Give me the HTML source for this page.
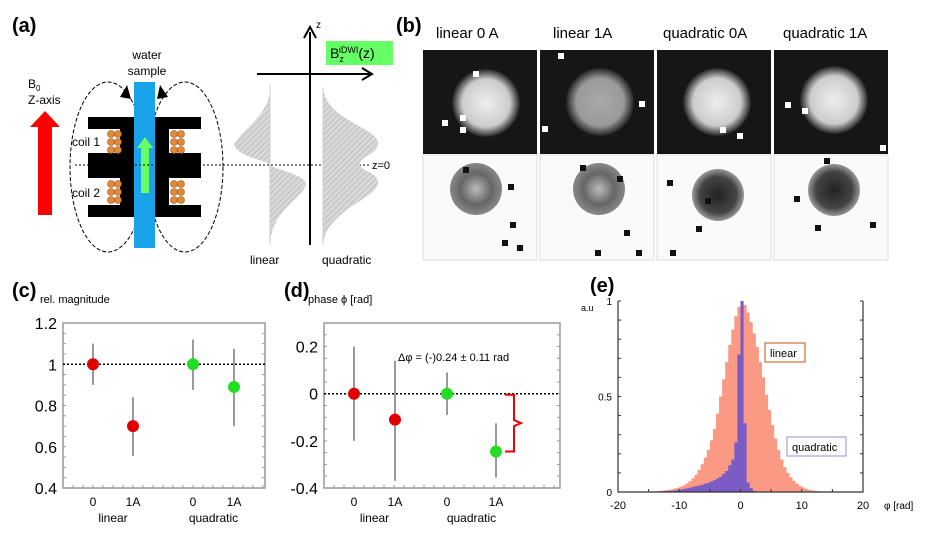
<!DOCTYPE html>
<html><head><meta charset="utf-8"><style>
body{margin:0;background:#fff;width:927px;height:535px;overflow:hidden;font-family:"Liberation Sans",sans-serif}
svg text{font-family:"Liberation Sans",sans-serif}
</style></head><body>
<svg id="fig" width="927" height="535" viewBox="0 0 927 535" xmlns="http://www.w3.org/2000/svg">
<defs>
<pattern id="hatch" width="4" height="4" patternUnits="userSpaceOnUse" patternTransform="rotate(45)"><rect width="4" height="4" fill="#d8d8d8"/><line x1="0" y1="0" x2="0" y2="4" stroke="#a8a8a8" stroke-width="1"/></pattern>
<radialGradient id="blobW"><stop offset="0" stop-color="#eee"/><stop offset="0.7" stop-color="#ccc"/><stop offset="1" stop-color="#222"/></radialGradient>
<radialGradient id="blobW2"><stop offset="0" stop-color="#aaa"/><stop offset="0.7" stop-color="#999"/><stop offset="1" stop-color="#222"/></radialGradient>
<radialGradient id="blobG"><stop offset="0" stop-color="#bbb"/><stop offset="0.6" stop-color="#666"/><stop offset="1" stop-color="#888"/></radialGradient>
<radialGradient id="blobD"><stop offset="0" stop-color="#222"/><stop offset="0.7" stop-color="#444"/><stop offset="1" stop-color="#999"/></radialGradient>
</defs>

<g>
<text x="12" y="32" font-size="20" font-weight="bold">(a)</text>
<path d="M38,215 L38,127 L30,127 L45,111 L60,127 L52,127 L52,215 Z" fill="#f00"/>
<text x="28" y="88" font-size="12">B<tspan font-size="8" dy="3">0</tspan></text>
<text x="28" y="104" font-size="12">Z-axis</text>
<text x="147" y="59" font-size="12" text-anchor="middle">water</text>
<text x="147" y="75" font-size="12" text-anchor="middle">sample</text>
<ellipse cx="108" cy="167" rx="38" ry="85" fill="none" stroke="#000" stroke-dasharray="4,2"/>
<ellipse cx="185" cy="167" rx="38" ry="85" fill="none" stroke="#000" stroke-dasharray="4,2"/>
<g fill="#000">
<rect x="88" y="117" width="113" height="12"/><rect x="88" y="153" width="113" height="25"/><rect x="88" y="205" width="113" height="12"/>
<rect x="120" y="117" width="14" height="100"/><rect x="155" y="117" width="14" height="100"/>
</g>
<g fill="#e08a3a" stroke="#a05010" stroke-width="0.6">
<circle cx="111" cy="134" r="3.5"/><circle cx="118" cy="134" r="3.5"/><circle cx="111" cy="142" r="3.5"/><circle cx="118" cy="142" r="3.5"/><circle cx="111" cy="150" r="3.5"/><circle cx="118" cy="150" r="3.5"/>
<circle cx="174" cy="134" r="3.5"/><circle cx="181" cy="134" r="3.5"/><circle cx="174" cy="142" r="3.5"/><circle cx="181" cy="142" r="3.5"/><circle cx="174" cy="150" r="3.5"/><circle cx="181" cy="150" r="3.5"/>
<circle cx="111" cy="184" r="3.5"/><circle cx="118" cy="184" r="3.5"/><circle cx="111" cy="192" r="3.5"/><circle cx="118" cy="192" r="3.5"/><circle cx="111" cy="200" r="3.5"/><circle cx="118" cy="200" r="3.5"/>
<circle cx="174" cy="184" r="3.5"/><circle cx="181" cy="184" r="3.5"/><circle cx="174" cy="192" r="3.5"/><circle cx="181" cy="192" r="3.5"/><circle cx="174" cy="200" r="3.5"/><circle cx="181" cy="200" r="3.5"/>
</g>
<text x="72" y="146" font-size="12">coil 1</text>
<text x="72" y="197" font-size="12">coil 2</text>
<rect x="134" y="82" width="21" height="166" fill="#1aa3e8"/>
<path d="M141,193 L141,148 L137,148 L145,137 L153,148 L149,148 L149,193 Z" fill="#6f6"/>
<path d="M120,97 L127,85 L131,99 Z M168,97 L160,85 L157,99 Z" fill="#000"/>
<line x1="75" y1="165" x2="370" y2="165" stroke="#000" stroke-dasharray="2,2"/>
<text x="372" y="169" font-size="11">z=0</text>
<path d="M270,85 C272,115 240,130 234,145 C240,158 266,160 270,165 C276,170 308,175 306,185 C300,200 272,210 270,245 Z" fill="url(#hatch)"/>
<line x1="270" y1="85" x2="270" y2="245" stroke="#ccc"/>
<path d="M323,88 C326,120 378,128 378,143 C378,156 358,156 360,165 C362,172 378,172 378,183 C378,198 326,210 323,245 Z" fill="url(#hatch)"/>
<line x1="323" y1="88" x2="323" y2="245" stroke="#ccc"/>
<line x1="310" y1="245" x2="310" y2="32" stroke="#000" stroke-width="2"/>
<path d="M304,38 L310,27 L316,38" fill="none" stroke="#000" stroke-width="2"/>
<line x1="257" y1="74" x2="370" y2="74" stroke="#000" stroke-width="2"/>
<path d="M362,68 L372,74 L362,80" fill="none" stroke="#000" stroke-width="2"/>
<text x="316" y="28" font-size="10">z</text>
<rect x="326" y="41" width="67" height="24" fill="#6f6"/>
<text x="330" y="58" font-size="14" font-family="Liberation Serif">B<tspan font-size="9" dy="4">z</tspan><tspan font-size="9" dy="-9" dx="-5">iDWI</tspan><tspan dy="5">(z)</tspan></text>
<text x="250" y="264" font-size="12">linear</text>
<text x="322" y="264" font-size="12">quadratic</text>
</g>

<g>
<text x="396" y="32" font-size="20" font-weight="bold">(b)</text>
<text x="436" y="38" font-size="15">linear    0 A</text>
<text x="553" y="38" font-size="15">linear    1A</text>
<text x="663" y="38" font-size="15">quadratic 0A</text>
<text x="783" y="38" font-size="15">quadratic 1A</text>
<g id="tiles"></g>
</g>

<g>
<text x="12" y="297" font-size="20" font-weight="bold">(c)</text>
<text x="40" y="303" font-size="11">rel. magnitude</text>
<g id="chartC"></g>
</g>

<g>
<text x="284" y="297" font-size="20" font-weight="bold">(d)</text>
<text x="308" y="303" font-size="11">phase ϕ [rad]</text>
<g id="chartD"></g>
<text x="398" y="361" font-size="11">Δφ = (-)0.24 ± 0.11 rad</text>
</g>

<g>
<text x="590" y="292" font-size="20" font-weight="bold">(e)</text>
<text x="581" y="311" font-size="9">a.u</text>
<text x="884" y="509" font-size="10">φ [rad]</text>
<g id="chartE"></g>
</g>
</svg>
<script>
const catLabels = ["0","1A","0","1A"];
const groupLabels = ["linear","quadratic"];
const cValues = [1.0, 0.70, 1.0, 0.89];
const cErrLow = [0.90, 0.555, 0.875, 0.70];
const cErrHigh = [1.10, 0.84, 1.12, 1.075];
const cTicks = [0.4, 0.6, 0.8, 1.0, 1.2];
const cTickLabels = ["0.4","0.6","0.8","1","1.2"];
const dValues = [0.0, -0.11, 0.0, -0.245];
const dErrLow = [-0.20, -0.37, -0.09, -0.355];
const dErrHigh = [0.20, 0.14, 0.09, -0.125];
const dTicks = [-0.4, -0.2, 0, 0.2];
const dTickLabels = ["-0.4","-0.2","0","0.2"];
const pointColors = ["#e00000","#e00000","#22dd22","#22dd22"];
const binStart = -15, binWidth = 0.5;
const linearHist = [0.002,0.003,0.004,0.005,0.007,0.009,0.011,0.014,0.018,0.022,0.028,0.035,0.045,0.057,0.072,0.09,0.115,0.145,0.18,0.22,0.27,0.33,0.41,0.5,0.59,0.68,0.77,0.85,0.92,0.97,1.0,0.98,0.94,0.89,0.83,0.76,0.68,0.6,0.51,0.43,0.35,0.28,0.22,0.17,0.13,0.1,0.077,0.058,0.044,0.033,0.024,0.017,0.012,0.009,0.006,0.004,0.003,0.002,0.001,0];
const quadHist = [0,0,0.001,0.002,0.003,0.004,0.005,0.006,0.008,0.01,0.013,0.016,0.019,0.022,0.026,0.03,0.034,0.038,0.043,0.048,0.055,0.062,0.07,0.08,0.095,0.11,0.14,0.17,0.26,0.72,1.0,0.36,0.05,0.02,0.006,0.002,0,0,0,0,0,0,0,0,0,0,0,0,0,0,0,0,0,0,0,0,0,0,0,0];
const eXTicks = [-20,-10,0,10,20];
const eYTicks = [0,0.5,1];
const eYTickLabels = ["0","0.5","1"];

const NS="http://www.w3.org/2000/svg";
function mk(parent,tag,attrs){const e=document.createElementNS(NS,tag);for(const k in attrs)e.setAttribute(k,attrs[k]);parent.appendChild(e);return e;}

function scatterPanel(gid, x0,x1,y0,y1, vmin,vmax, vals,lo,hi, ticks,tlabels, catX, refY){
  const g=document.getElementById(gid);
  const ys=v=>y1-(v-vmin)/(vmax-vmin)*(y1-y0);
  const frame=mk(g,'rect',{x:x0,y:y0,width:x1-x0,height:y1-y0,fill:'none',stroke:'#999','stroke-width':1.5});
  
  
  for(let v=vmin; v<=vmax+1e-9; v+=0.05){const y=ys(v);mk(g,'line',{x1:x0,x2:x0+3,y1:y,y2:y,stroke:'#999'});mk(g,'line',{x1:x1,x2:x1-3,y1:y,y2:y,stroke:'#999'});}
  for(let x=x0;x<=x1;x+=10){mk(g,'line',{x1:x,x2:x,y1:y1,y2:y1-3,stroke:'#999'});}
  ticks.forEach((t,i)=>{const tx=mk(g,'text',{x:x0-6,y:ys(t)+6,'font-size':16,'text-anchor':'end'});tx.textContent=tlabels[i];
    
    });
  const ref=mk(g,'line',{x1:x0,x2:x1,y1:ys(refY),y2:ys(refY),stroke:'#000','stroke-dasharray':'2,2','stroke-width':1.5});
  
  
  vals.forEach((v,i)=>{
    const eb=mk(g,'line',{x1:catX[i],x2:catX[i],y1:ys(lo[i]),y2:ys(hi[i]),stroke:'#777','stroke-width':1.5});
    
    
    const c=mk(g,'circle',{cx:catX[i],cy:ys(v),r:6,fill:pointColors[i]});
    
    
    const t=mk(g,'text',{x:catX[i],y:506,'font-size':12,'text-anchor':'middle'});t.textContent=catLabels[i];
    
    
  });
  groupLabels.forEach((gl,j)=>{const t=mk(g,'text',{x:(catX[2*j]+catX[2*j+1])/2,y:522,'font-size':12,'text-anchor':'middle'});t.textContent=gl;
    
    });
  return ys;
}
scatterPanel('chartC',63,265,323,488,0.4,1.2,cValues,cErrLow,cErrHigh,cTicks,cTickLabels,[93,133,193,234],1.0);
const ysD=scatterPanel('chartD',324,560,323,488,-0.4,0.3,dValues,dErrLow,dErrHigh,dTicks,dTickLabels,[354,395,447,496],0);
(function(){const g=document.getElementById('chartD');
 const y0=ysD(0)+1,y1=ysD(dValues[3]),ym=(y0+y1)/2;
 const b=mk(g,'path',{d:`M505,${y0} L514,${y0} L514,${ym-3} L521,${ym} L514,${ym+3} L514,${y1} L505,${y1}`,fill:'none',stroke:'#e00','stroke-width':2});
 
 })();

(function(){
 const g=document.getElementById('chartE');
 const x0=618,x1=863,y0=301,y1=492;
 const xs=v=>x0+(v+20)/40*(x1-x0), ys=v=>y1-v*(y1-y0);
 function hist(arr,color,name){let d=`M${xs(binStart)},${ys(0)}`;arr.forEach((v,i)=>{const a=xs(binStart+i*binWidth),b=xs(binStart+(i+1)*binWidth);d+=` L${a},${ys(v)} L${b},${ys(v)}`;});d+=` L${xs(binStart+arr.length*binWidth)},${ys(0)} Z`;
  const p=mk(g,'path',{d:d,fill:color});
  
  }
 hist(linearHist,'#fa9a85','linear-histogram');
 hist(quadHist,'#7a5cc4','quadratic-histogram');
 const f=mk(g,'path',{d:`M${x0},${y0} L${x0},${y1} L${x1},${y1} L${x1},${y0}`,fill:'none',stroke:'#333','stroke-width':1.2});
 
 
 for(let v=0;v<=1.001;v+=0.1){const y=ys(v);mk(g,'line',{x1:x0,x2:x0+3,y1:y,y2:y,stroke:'#333'});mk(g,'line',{x1:x1,x2:x1-3,y1:y,y2:y,stroke:'#333'});}
 for(let v=-20;v<=20;v+=5){mk(g,'line',{x1:xs(v),x2:xs(v),y1:y1,y2:y1-3,stroke:'#333'});}
 eXTicks.forEach(t=>{const tx=mk(g,'text',{x:xs(t),y:509,'font-size':11,'text-anchor':'middle'});tx.textContent=t;
  
  });
 eYTicks.forEach((t,i)=>{const tx=mk(g,'text',{x:x0-6,y:ys(t)+4,'font-size':10,'text-anchor':'end'});tx.textContent=eYTickLabels[i];
  
  });
 const l1=mk(g,'rect',{x:765,y:343,width:40,height:19,fill:'#fff',stroke:'#d07030','stroke-width':1.2});
 
 
 const t1=mk(g,'text',{x:770,y:357,'font-size':11});t1.textContent='linear';
 const l2=mk(g,'rect',{x:787,y:437,width:59,height:19,fill:'#fff',stroke:'#b0a0d0','stroke-width':1.2});
 
 
 const t2=mk(g,'text',{x:792,y:451,'font-size':11});t2.textContent='quadratic';
})();

(function(){
 const g=document.getElementById('tiles');
 const xsT=[423,540,657,774], w=114;
 const tops=[['url(#blobW)',63,53],['url(#blobW2)',60,52],['url(#blobW)',60,52],['url(#blobW)',60,50]];
 const bots=[['url(#blobG)',53,34],['url(#blobG)',59,34],['url(#blobD)',61,40],['url(#blobD)',60,35]];
 const dots=[[[473,71],[442,120],[460,115],[460,127]],[[558,53],[639,101],[542,126]],[[720,127],[737,133]],[[785,102],[802,108],[880,145]]];
 const blk=[[[463,167],[508,184],[510,222],[517,245],[502,240]],[[580,165],[617,176],[624,230],[595,250],[636,250]],[[667,180],[705,198],[696,226],[670,250]],[[824,158],[794,196],[815,225],[870,222]]];
 xsT.forEach((x,i)=>{
  const r=mk(g,'rect',{x:x,y:50,width:w,height:104,fill:'#161616'});
  
  
  mk(g,'circle',{cx:x+tops[i][1],cy:50+tops[i][2],r:34,fill:tops[i][0]});
  dots[i].forEach(p=>mk(g,'rect',{x:p[0],y:p[1],width:6,height:6,fill:'#fff'}));
  const r2=mk(g,'rect',{x:x,y:155,width:w,height:105,fill:'#fafafa',stroke:'#ddd'});
  
  
  mk(g,'circle',{cx:x+bots[i][1],cy:155+bots[i][2],r:26,fill:bots[i][0]});
  blk[i].forEach(p=>mk(g,'rect',{x:p[0],y:p[1],width:6,height:6,fill:'#111'}));
 });
})();
</script>
</body></html>
